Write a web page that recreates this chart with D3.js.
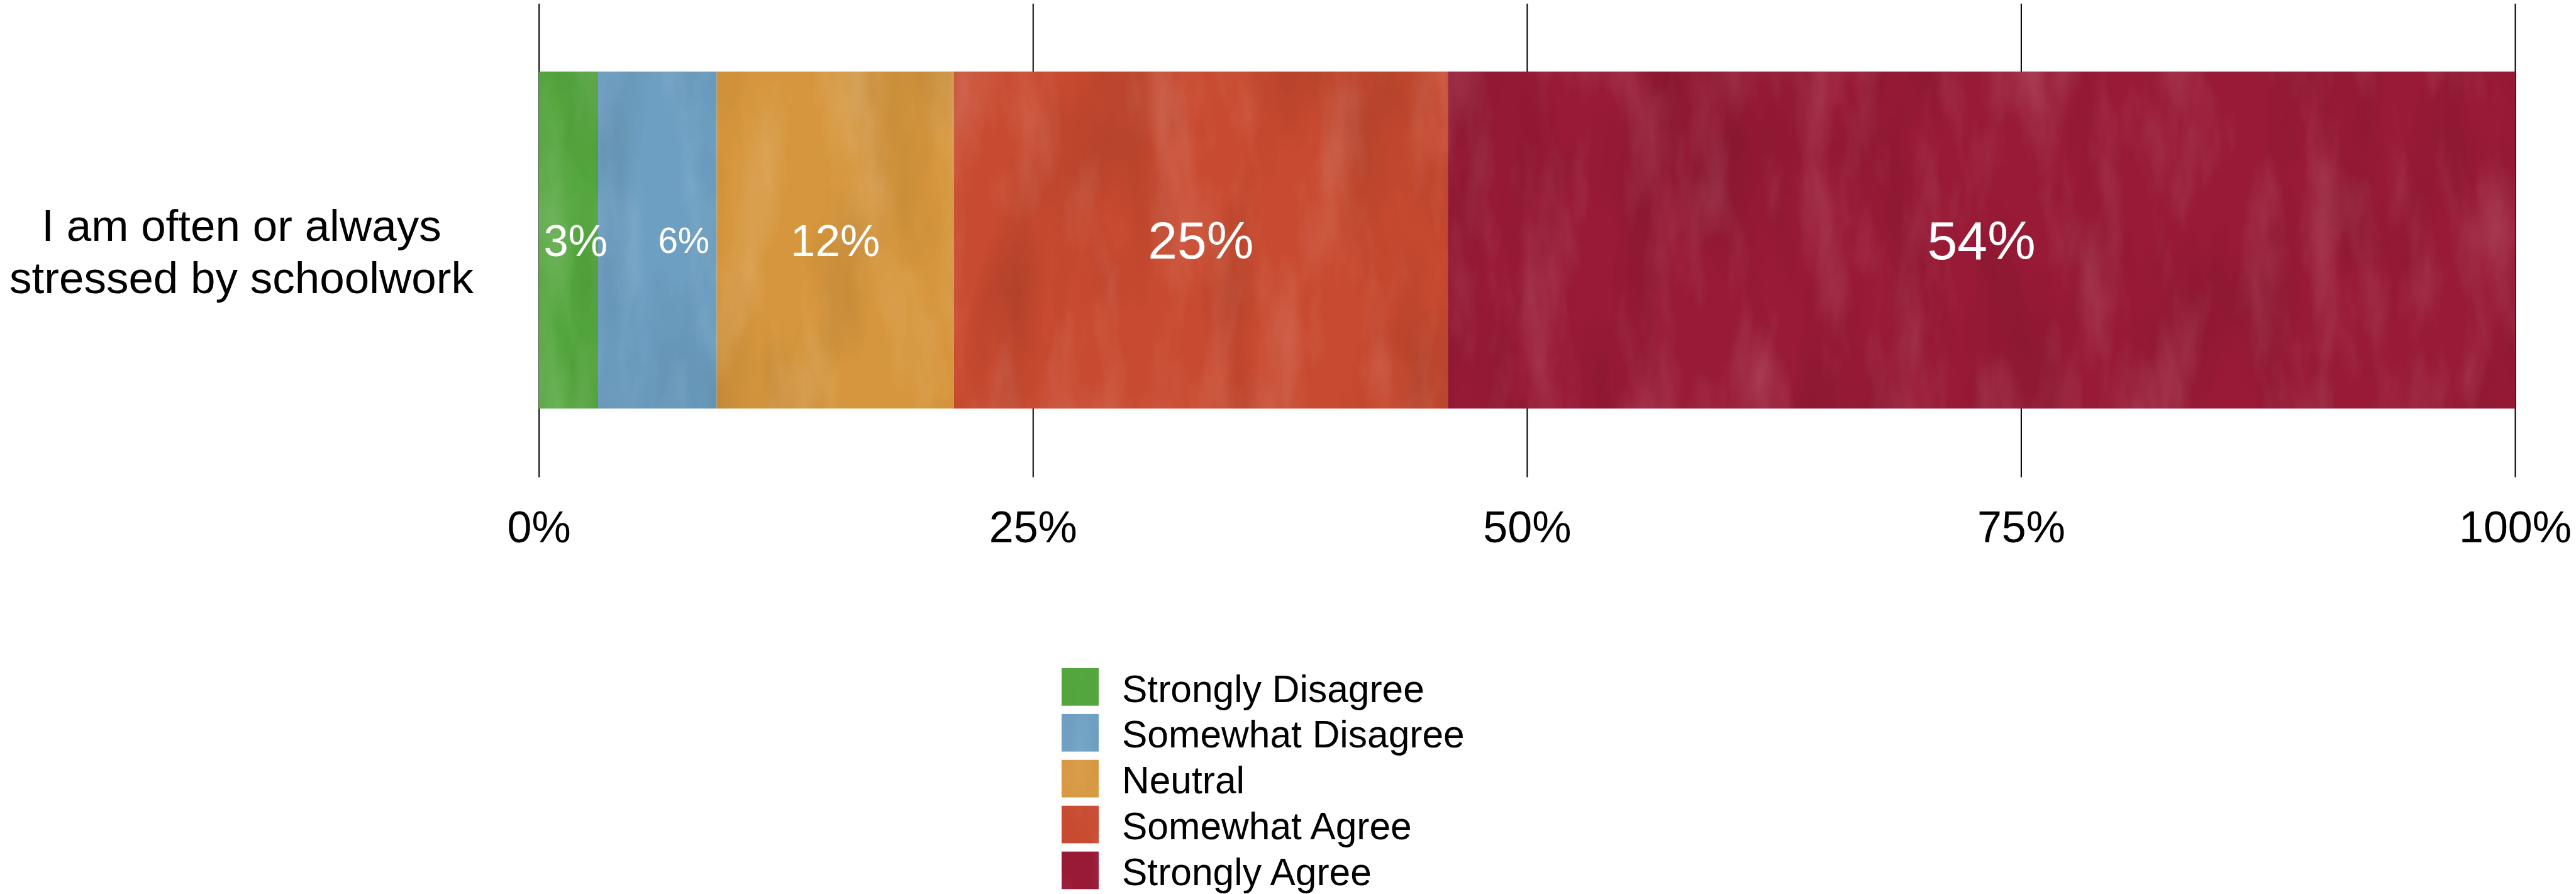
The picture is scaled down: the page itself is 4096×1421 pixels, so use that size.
<!DOCTYPE html>
<html>
<head>
<meta charset="utf-8">
<script src="https://cdn.jsdelivr.net/npm/d3@7"></script>
<style>
  html, body { margin: 0; padding: 0; background: #ffffff; }
  svg { display: block; }
  text { font-family: "Liberation Sans", Arial, Helvetica, sans-serif; }
</style>
</head>
<body>
<svg id="chart" width="4096" height="1421"></svg>
<script>
// Survey item and response shares (percent of respondents)
const categories = ["I am often or always stressed by schoolwork"];
const categoryLines = [["I am often or always", "stressed by schoolwork"]];
const responses = ["Strongly Disagree", "Somewhat Disagree", "Neutral", "Somewhat Agree", "Strongly Agree"];
const shares = [3, 6, 12, 25, 54];
const tickValues = [0, 25, 50, 75, 100];
const tickLabels = ["0%", "25%", "50%", "75%", "100%"];

// Styling
const baseColors = ["#53a53d", "#6d9fc2", "#d6963d", "#c84a30", "#981a36"];
const labelFont = [70.5, 56.5, 71, 84, 86];
const labelNudge = [11.5, 42, 0, 0, 0];

const svg = d3.select("#chart");

const x = d3.scaleLinear().domain([0, 100]).range([856.7, 3999]);
const y = d3.scaleBand().domain(categories).range([113.7, 649.4]).padding(0);
const gridTop = 5.7, gridBottom = 758.6, tickBaseline = 862;

// painted texture filters
const defs = svg.append("defs");
function paintFilter(id, seed, freq, light) {
  const f = defs.append("filter").attr("id", id)
    .attr("x", 0).attr("y", 0).attr("width", 1).attr("height", 1)
    .attr("filterUnits", "objectBoundingBox");
  f.append("feTurbulence").attr("type", "fractalNoise")
    .attr("baseFrequency", freq).attr("numOctaves", 4).attr("seed", seed).attr("result", "n");
  const c = light ? 1 : 0;
  f.append("feColorMatrix").attr("in", "n").attr("type", "matrix")
    .attr("values", `0 0 0 0 ${c}  0 0 0 0 ${c}  0 0 0 0 ${c}  ${light ? 2.2 : -2.2} 0 0 0 ${light ? -1.0 : 1.2}`)
    .attr("result", "m");
  f.append("feComposite").attr("in", "m").attr("in2", "SourceGraphic").attr("operator", "in");
}
paintFilter("paintLight", 7, "0.012 0.0035", true);
paintFilter("paintDark", 3, "0.007 0.0025", false);

// gridlines and tick labels via axis
const axis = d3.axisBottom(x)
  .tickValues(tickValues)
  .tickFormat((d, i) => tickLabels[i])
  .tickSize(gridBottom - gridTop);
const gAxis = svg.append("g").attr("transform", `translate(0,${gridTop})`).call(axis);
gAxis.select(".domain").remove();
gAxis.selectAll(".tick line").attr("stroke", "#000").attr("stroke-width", 2);
gAxis.selectAll(".tick text")
  .attr("y", tickBaseline - gridTop).attr("dy", null)
  .attr("fill", "#000").attr("font-size", 70)
  .attr("font-family", "'Liberation Sans', Arial, Helvetica, sans-serif");

// stacked segments
let acc = 0;
const stack = shares.map((v, i) => { const s = { i, v, x0: acc, x1: acc + v }; acc += v; return s; });

const bars = svg.append("g");
categories.forEach(cat => {
  const by = y(cat), bh = y.bandwidth();
  bars.selectAll(null).data(stack).enter().append("rect")
    .attr("x", d => x(d.x0)).attr("y", by)
    .attr("width", d => x(d.x1) - x(d.x0)).attr("height", bh)
    .attr("fill", d => baseColors[d.i]);
  bars.selectAll(null).data(stack).enter().append("rect")
    .attr("x", d => x(d.x0)).attr("y", by)
    .attr("width", d => x(d.x1) - x(d.x0)).attr("height", bh)
    .attr("fill", "#fff").attr("filter", "url(#paintLight)").attr("opacity", 0.16);
  bars.selectAll(null).data(stack).enter().append("rect")
    .attr("x", d => x(d.x0)).attr("y", by)
    .attr("width", d => x(d.x1) - x(d.x0)).attr("height", bh)
    .attr("fill", "#000").attr("filter", "url(#paintDark)").attr("opacity", 0.12);

  const cy = by + bh / 2;
  bars.selectAll(null).data(stack).enter().append("text")
    .attr("x", d => x((d.x0 + d.x1) / 2) + labelNudge[d.i])
    .attr("y", d => cy + 0.355 * labelFont[d.i])
    .attr("text-anchor", "middle")
    .attr("font-size", d => labelFont[d.i])
    .attr("fill", "#fff")
    .text(d => d.v + "%");
});

// category label
const catG = svg.append("g");
categoryLines.forEach((lines) => {
  const t = catG.append("text").attr("text-anchor", "middle").attr("font-size", 71).attr("fill", "#000");
  lines.forEach((ln, li) => {
    t.append("tspan").attr("x", 384).attr("y", 383.4 + li * 83).text(ln);
  });
});

// legend
const lg = svg.append("g");
const rowTop = 1062, rowStep = 72.9;
responses.forEach((r, i) => {
  const top = rowTop + i * rowStep;
  lg.append("rect").attr("x", 1688).attr("y", top).attr("width", 59).attr("height", 59.7)
    .attr("fill", baseColors[i]);
  lg.append("rect").attr("x", 1688).attr("y", top).attr("width", 59).attr("height", 59.7)
    .attr("fill", "#fff").attr("filter", "url(#paintLight)").attr("opacity", 0.16);
  lg.append("text").attr("x", 1784).attr("y", top + 53.5)
    .attr("font-size", 60.5).attr("fill", "#000").text(r);
});
</script>
</body>
</html>
